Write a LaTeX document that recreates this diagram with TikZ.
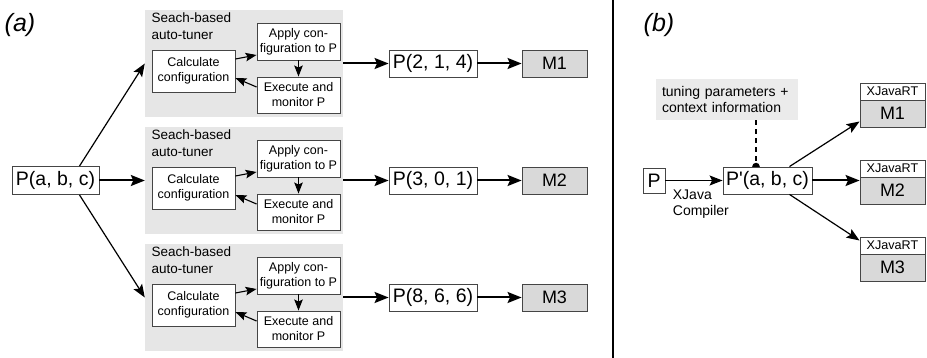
\documentclass[tikz,border=0pt]{standalone}
\usepackage{fontspec}
\setmainfont{Liberation Sans}
\usetikzlibrary{arrows.meta}
\newcommand\myfs[2]{\fontsize{#1pt}{#2pt}\selectfont}
\definecolor{panelgray}{HTML}{E6E6E6}
\definecolor{mgray}{HTML}{D9D9D9}
\definecolor{tungray}{HTML}{EBEBEB}
\definecolor{boxline}{HTML}{454545}
\pgfdeclarelayer{bg}
\pgfsetlayers{bg,main}
\tikzset{
  panel/.style={fill=panelgray, minimum width=198pt, minimum height=107pt, inner sep=0pt},
  wbox/.style={draw=boxline, fill=white, line width=0.9pt, inner sep=0pt, align=center},
  smallbox/.style={wbox, minimum width=83pt, font=\myfs{12.5}{15}},
  pbox/.style={wbox, minimum width=88pt, minimum height=27pt, font=\myfs{19.5}{22}},
  mbox/.style={wbox, fill=mgray, minimum width=65pt, minimum height=27pt, font=\myfs{18}{20}},
  rtbox/.style={wbox, minimum width=65pt, minimum height=17pt, font=\myfs{12.6}{14}},
  bigarr/.style={-{Stealth[length=14pt,width=11pt,inset=2.5pt]}, line width=2pt},
  thinarr/.style={-{Stealth[length=13pt,width=10pt,inset=2.5pt]}, line width=1.2pt},
  smallarr/.style={-{Stealth[length=11pt,width=8.5pt,inset=2pt]}, line width=1.1pt},
  lbl/.style={inner sep=0pt, align=left},
}
\begin{document}
\begin{tikzpicture}[x=1pt,y=-1pt]
\useasboundingbox (0,0) rectangle (927,358);

% ---------- (a) ----------
\node[lbl, font=\myfs{25}{28}\itshape] (la) at (20,25) {(a)};
\node[pbox, minimum width=87pt, minimum height=28pt] (pabc) at (55.5,180.5) {P(a, b, c)};

\foreach \i/\yo/\ptxt/\mtxt in {1/10/{P(2, 1, 4)}/M1, 2/127/{P(3, 0, 1)}/M2, 3/244/{P(8, 6, 6)}/M3}{
  \node[panel] (panel\i) at (244,\yo+53.5) {};
  \node[lbl, anchor=north west, font=\myfs{13.5}{17}] (title\i) at (151.5,\yo+3) {Seach-based\\auto-tuner};
  \node[smallbox, minimum height=42pt] (calc\i) at (193.5,\yo+61) {Calculate\\configuration};
  \node[smallbox, minimum height=37pt] (apply\i) at (298.5,\yo+31.5) {Apply con-\\figuration to P};
  \node[smallbox, minimum height=36pt] (exec\i) at (298.5,\yo+85) {Execute and\\monitor P};
  \draw[smallarr] ([yshift=12pt]calc\i.east) -- ([yshift=-13.5pt]apply\i.west);
  \draw[smallarr] (apply\i.south) -- (exec\i.north);
  \draw[smallarr] ([yshift=8pt]exec\i.west) -- ([yshift=-7pt]calc\i.east);
  \node[pbox] (pv\i) at (433,\yo+53.5) {\ptxt};
  \node[mbox] (m\i) at (554.5,\yo+53.5) {\mtxt};
  \draw[bigarr] (panel\i.east) -- (pv\i.west);
  \draw[bigarr] (pv\i.east) -- (m\i.west);
}

\draw[thinarr] ([xshift=24pt]pabc.north) -- (panel1.west);
\draw[bigarr] (pabc.east) -- (panel2.west);
\draw[thinarr] ([xshift=24pt]pabc.south) -- (panel3.west);

% divider
\draw[line width=2pt] (613,0) -- (613,358);

% ---------- (b) ----------
\node[lbl, font=\myfs{25}{28}\itshape] (lb) at (659,25) {(b)};
\node[wbox, minimum width=22pt, minimum height=25pt, font=\myfs{19.5}{22}] (pb) at (654,180.5) {P};
\node[pbox, minimum width=89pt] (pprime) at (767.5,180.5) {P\textquotesingle(a, b, c)};
\node[fill=tungray, minimum width=142pt, minimum height=41pt, inner sep=0pt, inner xsep=6pt, align=left, text width=130pt, font=\myfs{14}{15.5}] (tun) at (727,99.5) {tuning parameters +\\context information};

\foreach \i/\t in {1/83, 2/160, 3/237}{
  \node[rtbox] (rt\i) at (892.5,\t+8.5) {XJavaRT};
  \node[mbox] (mb\i) at (892.5,\t+30.5) {M\i};
}

\draw[thinarr] (pb.east) -- (pprime.west) node[lbl, anchor=north west, font=\myfs{14}{15.5}, pos=0.12, yshift=-9pt] (xjc) {XJava\\Compiler};
\draw[thinarr] ([xshift=22pt]pprime.north) -- ([yshift=-8pt]mb1.west);
\draw[bigarr] (pprime.east) -- (pprime.east -| mb2.west);
\draw[thinarr] ([xshift=22pt]pprime.south) -- ([yshift=5pt]rt3.west);

\begin{pgfonlayer}{bg}
\draw[line width=1.1pt, dashed, dash pattern=on 5pt off 4pt] ([xshift=29pt]tun.south) -- ([xshift=-11.5pt]pprime.north);
\fill ([xshift=-11.5pt]pprime.north) circle (3.8pt);
\end{pgfonlayer}
\end{tikzpicture}
\end{document}
